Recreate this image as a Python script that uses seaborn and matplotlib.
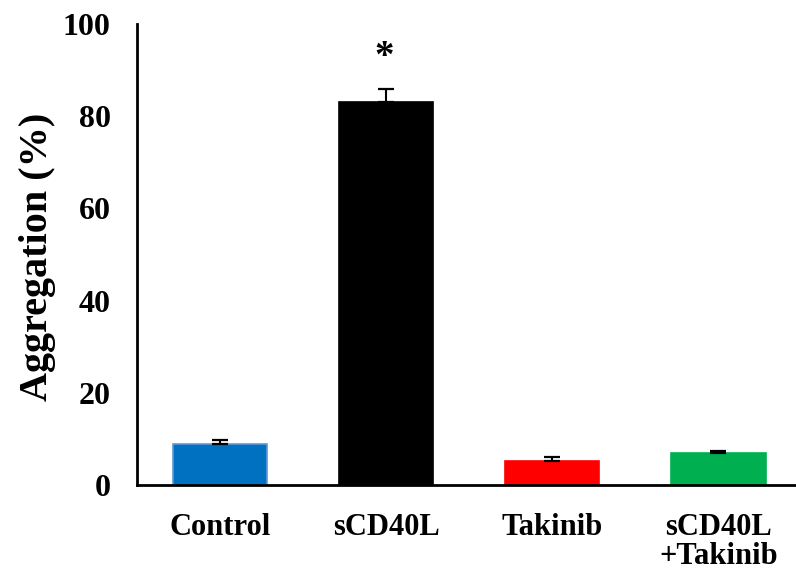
import matplotlib
matplotlib.use("Agg")
import matplotlib.pyplot as plt
import seaborn as sns
import pandas as pd
import numpy as np

# Platelet aggregation by treatment group (mean and upper SEM)
groups = ["Control", "sCD40L", "Takinib", "sCD40L\n+Takinib"]
aggregation = [9.0, 83.1, 5.3, 7.0]
sem = [0.85, 2.8, 0.8, 0.4]
colors = ["#0070C0", "#000000", "#FF0000", "#00B050"]
edge_colors = ["#5B9BD5", "#000000", "#FF0000", "#00B050"]
yticks = [0, 20, 40, 60, 80, 100]
significant = ["sCD40L"]

sns.set_theme(style="white")
plt.rcParams["font.family"] = ["Liberation Serif", "DejaVu Serif"]
plt.rcParams["font.weight"] = "bold"
plt.rcParams["text.color"] = "black"
plt.rcParams["axes.labelcolor"] = "black"
plt.rcParams["xtick.color"] = "black"
plt.rcParams["ytick.color"] = "black"

df = pd.DataFrame({"group": groups, "aggregation": aggregation})

fig = plt.figure(figsize=(7.96, 5.71), dpi=100)
ax = fig.add_axes([0.172, 0.1506, 0.835, 0.8074])

sns.barplot(data=df, x="group", y="aggregation", hue="group", palette=colors,
            width=0.566, ax=ax, legend=False, saturation=1)
for patch, ec in zip(ax.patches, edge_colors):
    patch.set_edgecolor(ec)
    patch.set_linewidth(1.2)

x = np.arange(len(groups))
ax.errorbar(x, aggregation, yerr=[np.zeros(len(sem)), sem], fmt="none",
            ecolor="black", elinewidth=1.5, capsize=5.5, capthick=1.6, zorder=3)

for i, g in enumerate(groups):
    if g in significant:
        ax.text(i - 0.015, aggregation[i] + sem[i] + 2.8, "*", ha="center", va="bottom",
                fontsize=28, fontweight="bold", color="black")

ax.set_xlim(-0.5, 3.5)
ax.set_ylim(0, 100)
ax.set_yticks(yticks)
ax.set_yticklabels([str(t) for t in yticks], fontsize=23, fontweight="bold")
ax.set_xticks(x)
ax.set_xticklabels(groups, fontsize=22, fontweight="bold", linespacing=1.0)
ax.tick_params(axis="both", length=0)
ax.tick_params(axis="y", pad=19)
ax.tick_params(axis="x", pad=20)
ax.set_xlabel("")
ax.set_ylabel("Aggregation (%)", fontsize=29, fontweight="bold")
ax.yaxis.set_label_coords(-0.122, 0.495)

for side in ["top", "right"]:
    ax.spines[side].set_visible(False)
for side in ["left", "bottom"]:
    ax.spines[side].set_color("black")
    ax.spines[side].set_linewidth(2.0)

fig.savefig("out.png", dpi=100, facecolor="white")
